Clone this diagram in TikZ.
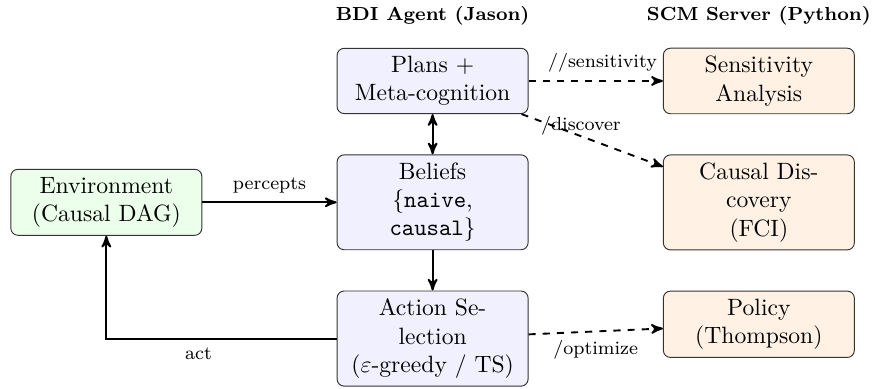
\documentclass[tikz,border=0pt]{standalone}
\usepackage{amsmath, amssymb}
\usetikzlibrary{arrows,positioning}

\begin{document}
\begin{tikzpicture}[->,>=stealth',auto,node distance=2cm,
                    thick]
  \tikzstyle{box}=[draw=black!80,thin,rounded corners=3pt,
                   text width=2.5cm,inner xsep=4.9pt,align=center]
  \tikzstyle{agent}=[box,fill=blue!6]
  \tikzstyle{scm}=[box,fill=orange!10]
  \tikzstyle{world}=[box,fill=green!8]
  \tikzstyle{title}=[font=\footnotesize\bfseries]
  \tikzstyle{lbl}=[font=\footnotesize]

  \useasboundingbox (-183.3pt,-130.1pt) rectangle (188.3pt,34.3pt);

  \node[agent] (plans)   at (0,0)              {Plans +\\Meta-cognition};
  \node[agent] (beliefs) [below=0.6cm of plans]   {Beliefs\\\{\texttt{naive}, \texttt{causal}\}};
  \node[agent] (action)  [below=0.6cm of beliefs] {Action Se-\\lection\\($\varepsilon$-greedy / TS)};
  \node[world] (env)     [left=of beliefs]        {Environment\\(Causal DAG)};
  \node[scm]   (sens)    [right=of plans]         {Sensitivity\\Analysis};
  \node[scm]   (causal)  [below=0.6cm of sens]    {Causal Dis-\\covery\\(FCI)};
  \node[scm]   (policy)  [below=0.6cm of causal]  {Policy\\(Thompson)};

  \node[title] (bdi) [above=0.2cm of plans] {BDI Agent (Jason)};
  \node[title] (srv) [above=0.2cm of sens]  {SCM Server (Python)};

  \path (env)     edge              node[lbl,above] {percepts} (beliefs)
        (plans)   edge [<->]        (beliefs)
        (beliefs) edge              (action)
        (plans)   edge [dashed]     node[lbl,above,pos=0.55] {//sensitivity} (sens)
                  edge [dashed]     node[lbl,above,inner sep=0pt,pos=0.42] {/discover} (causal)
        (action)  edge [dashed]     node[lbl,below] {/optimize} (policy);
  \draw (action.west) -| node[lbl,below,pos=0.3] {act} (env.south);
\end{tikzpicture}
\end{document}
